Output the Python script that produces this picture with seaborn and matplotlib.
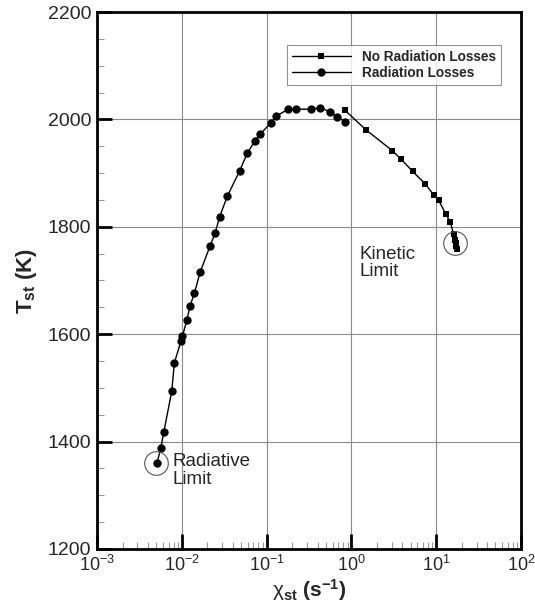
import matplotlib
matplotlib.use("Agg")
import matplotlib.pyplot as plt
import matplotlib.ticker as mticker
import numpy as np
import pandas as pd
import seaborn as sns

# ---- data ----
rad_x = [0.00512, 0.00566, 0.00614, 0.00762, 0.00818, 0.00982, 0.01016, 0.01146,
         0.01253, 0.01406, 0.01641, 0.02153, 0.02466, 0.02799, 0.03443, 0.04808,
         0.05916, 0.07278, 0.08337, 0.1114, 0.1297, 0.1795, 0.2213, 0.3319,
         0.4315, 0.5559, 0.6776, 0.8414]
rad_T = [1361, 1388, 1418, 1494, 1547, 1588, 1596, 1626, 1653, 1676, 1715, 1764,
         1788, 1819, 1857, 1904, 1937, 1960, 1972, 1993, 2006, 2019, 2019, 2019,
         2022, 2014, 2005, 1996]

norad_x = [0.841, 1.5, 3.03, 3.8, 5.3, 7.4, 9.4, 10.7, 13.1, 14.6, 16.1, 16.6,
           16.9, 17.2, 17.4]
norad_T = [2017, 1980, 1942, 1927, 1903, 1880, 1859, 1849, 1823, 1809, 1786, 1776,
           1770, 1764, 1759]

series_labels = ["No Radiation Losses", "Radiation Losses"]
annot_text = ["Radiative\nLimit", "Kinetic\nLimit"]
annot_pos = [(0.0077, 1378), (1.25, 1765)]
circle_pos = [(0.0049, 1361), (16.5, 1770)]

sns.set_style("white")
plt.rcParams["font.family"] = ["Liberation Sans", "DejaVu Sans"]
plt.rcParams["mathtext.fontset"] = "custom"
plt.rcParams["mathtext.rm"] = "Liberation Sans"
plt.rcParams["mathtext.bf"] = "Liberation Sans:bold"
plt.rcParams["mathtext.it"] = "Liberation Sans:italic"

fig = plt.figure(figsize=(5.35, 6.04), dpi=100)
ax = fig.add_axes([0.1813, 0.0911, 0.7925, 0.889])

df_nr = pd.DataFrame({"x": norad_x, "T": norad_T})
df_r = pd.DataFrame({"x": rad_x, "T": rad_T})

sns.lineplot(data=df_nr, x="x", y="T", ax=ax, color="black", lw=1.0,
             marker="s", markersize=4.2, markeredgewidth=0, estimator=None,
             sort=False, label=series_labels[0], zorder=3)
sns.lineplot(data=df_r, x="x", y="T", ax=ax, color="black", lw=1.0,
             marker="o", markersize=6, markeredgewidth=0, estimator=None,
             sort=False, label=series_labels[1], zorder=3)

ax.set_xscale("log")
ax.set_xlim(1e-3, 1e2)
ax.set_ylim(1200, 2200)

ax.xaxis.set_major_locator(mticker.LogLocator(base=10))
ax.xaxis.set_minor_locator(mticker.LogLocator(base=10, subs=np.arange(2, 10)))
ax.xaxis.set_minor_formatter(mticker.NullFormatter())
ax.yaxis.set_major_locator(mticker.MultipleLocator(200))
ax.yaxis.set_minor_locator(mticker.MultipleLocator(50))

ax.grid(which="major", color="#8a8a8a", lw=0.8, zorder=0)
ax.set_axisbelow(True)

ax.tick_params(which="major", direction="in", length=11, width=2, color="black",
               bottom=True, left=True, top=False, right=False, labelsize=13,
               pad=4)
ax.tick_params(axis="y", which="major", labelsize=14)
ax.tick_params(which="minor", direction="in", length=5, width=0.8, color="#999999",
               bottom=True, left=True, top=False, right=False)

for s in ax.spines.values():
    s.set_linewidth(2)
    s.set_color("black")

ax.set_xlabel("χ$_{\\mathbf{st}}$ $\\mathbf{(s^{-1})}$", fontsize=15, labelpad=2)
ax.set_ylabel("$\\mathbf{T_{st}}$ $\\mathbf{(K)}$", fontsize=16, labelpad=6)

# annotations
for (cx, cy) in circle_pos:
    ax.plot([cx], [cy], marker="o", ms=17, mfc="none", mec="#555555", mew=0.8,
            zorder=4)
for (tx, ty), t in zip(annot_pos, annot_text):
    ax.text(tx, ty, t, fontsize=13.5, va="top", ha="left", linespacing=1.05)

leg = ax.legend(loc="upper right", bbox_to_anchor=(0.953, 0.9385),
                prop={"weight": "bold", "size": 9.8}, frameon=True, fancybox=False,
                handlelength=4.4, borderpad=0.35, labelspacing=0.15,
                handletextpad=0.8, borderaxespad=0)
leg.get_frame().set_edgecolor("#777777")
leg.get_frame().set_linewidth(0.8)

fig.savefig("out.png", dpi=100)
